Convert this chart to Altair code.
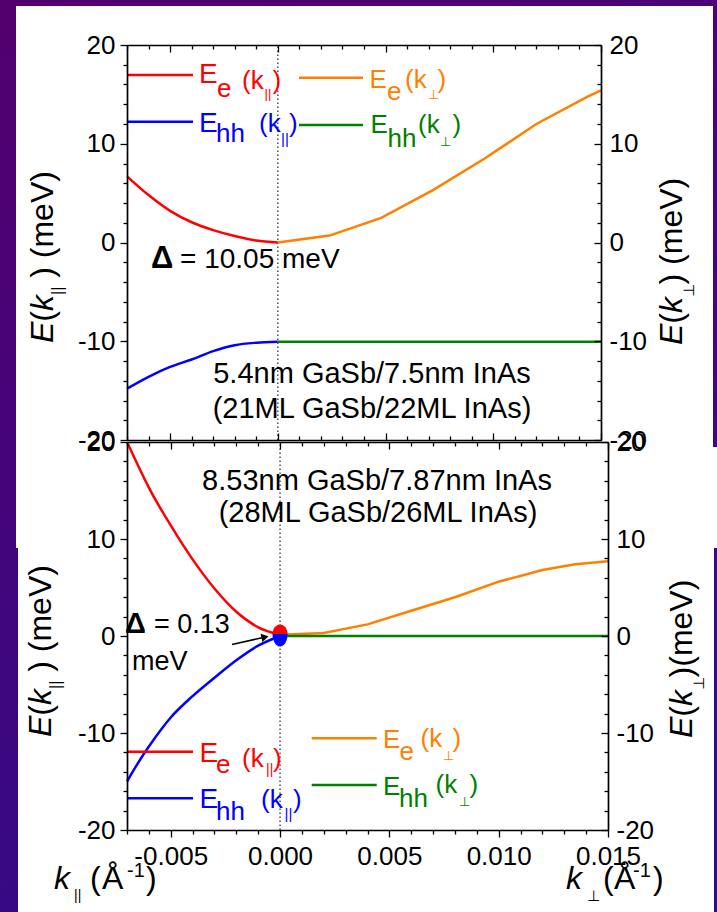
import math
import altair as alt
import pandas as pd

FONT = "Liberation Sans, Arial, Helvetica, DejaVu Sans, sans-serif"
RED, BLUE, ORANGE, GREEN, BLACK = "#ff0000", "#0000ff", "#ff8000", "#008000", "#000000"

# ---------------- values ----------------
# upper panel : 5.4nm GaSb / 7.5nm InAs
top_k_par = [-0.007, -0.006, -0.005, -0.004, -0.003, -0.002, -0.001, 0.0]
top_Ee_par = [6.7, 4.8, 3.2, 2.05, 1.25, 0.65, 0.2, 0.0]
top_Ehh_par = [-14.8, -13.6, -12.6, -11.85, -11.0, -10.4, -10.15, -10.05]
top_k_perp = [0.0, 0.0024, 0.0048, 0.0072, 0.0096, 0.012, 0.0144, 0.015]
top_Ee_perp = [0.0, 0.7, 2.5, 5.3, 8.5, 12.0, 14.8, 15.4]
top_k_perp_hh = [0.0, 0.015]
top_Ehh_perp = [-10.05, -10.05]

# lower panel : 8.53nm GaSb / 7.87nm InAs
bot_k_par = [-0.007, -0.0065, -0.006, -0.005, -0.004, -0.003, -0.002, -0.001, 0.0]
bot_Ee_par = [20.0, 17.6, 15.3, 11.4, 7.9, 4.9, 2.5, 0.9, 0.13]
bot_Ehh_par = [-15.0, -13.1, -11.4, -8.4, -6.2, -4.3, -2.5, -1.0, 0.0]
bot_k_perp = [0.0, 0.002, 0.004, 0.006, 0.008, 0.010, 0.012, 0.0135, 0.015]
bot_Ee_perp = [0.13, 0.3, 1.2, 2.6, 4.0, 5.6, 6.8, 7.4, 7.7]
bot_k_perp_hh = [0.0, 0.015]
bot_Ehh_perp = [0.0, 0.0]
touch_point = [0.0, 0.2]

x_major = [-0.005, 0.0, 0.005, 0.010, 0.015]
x_minor = [-0.007, -0.006, -0.004, -0.003, -0.002, -0.001, 0.001, 0.002, 0.003,
           0.004, 0.006, 0.007, 0.008, 0.009, 0.011, 0.012, 0.013, 0.014]
y_major = [-20, -10, 0, 10, 20]
y_minor = [-18, -16, -14, -12, -8, -6, -4, -2, 2, 4, 6, 8, 12, 14, 16, 18]

KMIN, KMAX, EMIN, EMAX = -0.007, 0.015, -20, 20

# ---------------- layout (page pixels) ----------------
LEFT = 127
TOPP = dict(y0=45, w=474, h=395)
BOTP = dict(y0=442, w=481, h=388)


def conv(p):
    def f(px, py):
        return (KMIN + (px - LEFT) * (KMAX - KMIN) / p["w"],
                EMAX - (py - p["y0"]) * (EMAX - EMIN) / p["h"])
    return f


def scales():
    return dict(x=alt.Scale(domain=[KMIN, KMAX], nice=False, zero=False),
                y=alt.Scale(domain=[EMIN, EMAX], nice=False, zero=False))


XLAB = "datum.value < 0 ? '-' + format(-datum.value, '.3f') : format(datum.value, '.3f')"
YLAB = "datum.value < 0 ? '-' + format(-datum.value, 'd') : format(datum.value, 'd')"


def axis(orient, values=None, size=0, offset=0, labels=False, domain=False, ticks=True, **kw):
    d = dict(orient=orient, grid=False, title=None, zindex=1, domain=domain,
             labels=labels, ticks=ticks, offset=offset,
             tickColor=BLACK, tickWidth=1.3, domainColor=BLACK, domainWidth=1.7,
             labelFont=FONT, labelFontSize=26, labelColor=BLACK)
    if values is not None:
        d["values"] = values
    if ticks:
        d["tickSize"] = size
    d.update(kw)
    return alt.Axis(**d)


CARRIER = pd.DataFrame({"k": [KMIN, KMAX], "E": [EMIN, EMAX]})
ONE = pd.DataFrame({"one": [1]})


def carrier(sc, xa, ya):
    return alt.Chart(CARRIER).mark_point(opacity=0).encode(
        x=alt.X("k:Q", scale=sc["x"], axis=xa),
        y=alt.Y("E:Q", scale=sc["y"], axis=ya))


def curves(sc, segs, interp):
    rows = []
    for name, ks, es, col in segs:
        for k, e in zip(ks, es):
            rows.append(dict(k=k, E=e, s=name, c=col))
    return alt.Chart(pd.DataFrame(rows)).mark_line(strokeWidth=2.5, interpolate=interp).encode(
        x=alt.X("k:Q", scale=sc["x"], axis=None),
        y=alt.Y("E:Q", scale=sc["y"], axis=None),
        color=alt.Color("c:N", scale=None),
        detail="s:N")


def dotted_zero(sc):
    df = pd.DataFrame({"k": [0.0], "E1": [EMIN], "E2": [EMAX]})
    return alt.Chart(df).mark_rule(strokeDash=[1.5, 2.5], strokeWidth=1.3, color="#333333").encode(
        x=alt.X("k:Q", scale=sc["x"], axis=None),
        y=alt.Y("E1:Q", scale=sc["y"], axis=None),
        y2="E2:Q")


def legend_rules(sc, p, items):
    f = conv(p)
    rows = []
    for x1, x2, y, c in items:
        a, e = f(x1, y)
        b, _ = f(x2, y)
        rows.append(dict(x=a, x2=b, y=e, c=c))
    return alt.Chart(pd.DataFrame(rows)).mark_rule(strokeWidth=2.5).encode(
        x=alt.X("x:Q", scale=sc["x"], axis=None), x2="x2:Q",
        y=alt.Y("y:Q", scale=sc["y"], axis=None),
        color=alt.Color("c:N", scale=None))


WID = {"E": 0.667, "(": 0.333, "k": 0.5, ")": 0.333, " ": 0.278, "m": 0.833,
       "e": 0.556, "V": 0.667, "|": 0.26, "⊥": 0.838}


def vtitle(base_x, start_y, parts, color=BLACK):
    # rotated (reading upwards) title built from pieces; leading blanks become gaps
    out = []
    along = 0.0
    for text, size, kind, cross in parts:
        stripped = text.lstrip(" ")
        along += (len(text) - len(stripped)) * WID[" "] * size
        out.append((base_x + cross, start_y - along, stripped, size, color, kind))
        along += sum(WID[ch] for ch in stripped) * size
    return out


def text_layers(sc, p, items):
    f = conv(p)
    rows = []
    for px, py, t, s, c, kind in items:
        x, y = f(px, py)
        rows.append(dict(x=x, y=y, t=t, s=s, c=c, kind=kind))
    df = pd.DataFrame(rows)
    specs = {"n": {}, "i": {"fontStyle": "italic"}, "b": {"fontWeight": "bold"},
             "c": {"align": "center"}, "rn": {"angle": 270},
             "ri": {"angle": 270, "fontStyle": "italic"}}
    layers = []
    for kind, kw in specs.items():
        sub = df[df.kind == kind]
        if len(sub) == 0:
            continue
        mk = dict(font=FONT, align="left", baseline="alphabetic")
        mk.update(kw)
        layers.append(alt.Chart(sub).mark_text(**mk).encode(
            x=alt.X("x:Q", scale=sc["x"], axis=None),
            y=alt.Y("y:Q", scale=sc["y"], axis=None),
            text="t:N",
            size=alt.Size("s:Q", scale=None),
            color=alt.Color("c:N", scale=None)))
    return layers


def vrect(x1, y1, x2, y2, fill):
    # page pixels -> pixels relative to the upper plot origin
    return alt.Chart(ONE).mark_rect(fill=fill, strokeWidth=0).encode(
        x=alt.value(x1 - LEFT), x2=alt.value(x2 - LEFT),
        y=alt.value(y1 - TOPP["y0"]), y2=alt.value(y2 - TOPP["y0"]))


# ---------------- axes ----------------
tb_frame = axis("bottom", domain=True, ticks=False)
tb_major = axis("bottom", x_major, 7, offset=-7)
tb_minor = axis("bottom", x_minor, 4, offset=-4)
bb_major = axis("bottom", x_major, 7, labels=True, domain=True, labelPadding=6,
                labelFlush=False, labelExpr=XLAB)
bb_minor = axis("bottom", x_minor, 4)
tt_frame = axis("top", domain=True, ticks=False)
tt_major = axis("top", x_major, 7, offset=-7)
tt_minor = axis("top", x_minor, 4, offset=-4)
yl_major = axis("left", y_major, 7, labels=True, domain=True, labelPadding=5, labelExpr=YLAB)
yl_minor = axis("left", y_minor, 4)
yr_frame = axis("right", domain=True, ticks=False)
yr_major = axis("right", y_major, 7, offset=-7, labels=True, labelPadding=8, labelExpr=YLAB)
yr_minor = axis("right", y_minor, 4, offset=-4)

LEFT_TITLE = [("E", 32, "ri", 0), ("(", 32, "rn", 0), ("k", 32, "ri", 0),
              ("||", 16, "rn", 10), (" )", 32, "rn", 0), (" (meV)", 32, "rn", 0)]
RIGHT_TITLE_T = [("E", 32, "ri", 0), ("(", 32, "rn", 0), ("k", 32, "ri", 0),
                 ("⊥", 15, "rn", 12), (")", 32, "rn", 0), (" (meV)", 32, "rn", 0)]
RIGHT_TITLE_B = [("E", 32, "ri", 0), ("(", 32, "rn", 0), ("k", 32, "ri", 0),
                 ("⊥", 15, "rn", 12), (")", 32, "rn", 0), ("(meV)", 32, "rn", 0)]

# ---------------- upper panel ----------------
sct = scales()
top_text = [
    (199, 83.3, "E", 28, RED, "n"), (217, 96.7, "e", 26, RED, "n"),
    (242, 89.3, "(k", 26, RED, "n"), (264.5, 97.5, "||", 13, RED, "n"), (272.5, 89.3, ")", 26, RED, "n"),
    (199, 131.7, "E", 28, BLUE, "n"), (216, 141.7, "hh", 26, BLUE, "n"),
    (259, 131.7, "(k", 26, BLUE, "n"), (281, 143.5, "||", 15, BLUE, "n"), (289, 131.7, ")", 26, BLUE, "n"),
    (369.5, 88.3, "E", 26, ORANGE, "n"), (387, 100, "e", 26, ORANGE, "n"),
    (405, 88.3, "(k", 26, ORANGE, "n"), (428, 99, "⊥", 13, ORANGE, "n"), (437.5, 88.3, ")", 26, ORANGE, "n"),
    (370.5, 133.3, "E", 26, GREEN, "n"), (387.5, 146.7, "hh", 26, GREEN, "n"),
    (418, 133.3, "(k", 26, GREEN, "n"), (440, 146, "⊥", 13, GREEN, "n"), (452.5, 133.3, ")", 26, GREEN, "n"),
    (372, 383, "5.4nm GaSb/7.5nm InAs", 29, BLACK, "c"),
    (372, 418, "(21ML GaSb/22ML InAs)", 29, BLACK, "c"),
    (151, 268, "Δ", 31, BLACK, "b"), (180, 268, "= 10.05 meV", 28, BLACK, "n"),
] + vtitle(53, 343, LEFT_TITLE) + vtitle(682, 345, RIGHT_TITLE_T)

grad = alt.LinearGradient(gradient="linear", x1=0, x2=0.3, y1=0, y2=1, stops=[
    alt.GradientStop(color="#53006e", offset=0),
    alt.GradientStop(color="#44047a", offset=0.5),
    alt.GradientStop(color="#340b86", offset=1)])

top_layers = [
    vrect(0, 0, 717, 912, grad),
    vrect(16, 6, 713, 447, "white"),
    vrect(16, 447, 717, 548, "white"),
    vrect(18, 548, 714, 912, "white"),
    carrier(sct, tb_frame, yl_major),
    carrier(sct, tb_major, yl_minor),
    carrier(sct, tb_minor, yr_frame),
    carrier(sct, tt_frame, yr_major),
    carrier(sct, tt_major, yr_minor),
    carrier(sct, tt_minor, None),
    dotted_zero(sct),
    curves(sct, [("e_par", top_k_par, top_Ee_par, RED),
                 ("hh_par", top_k_par, top_Ehh_par, BLUE)], "monotone"),
    curves(sct, [("e_perp", top_k_perp, top_Ee_perp, ORANGE),
                 ("hh_perp", top_k_perp_hh, top_Ehh_perp, GREEN)], "linear"),
    legend_rules(sct, TOPP, [(127, 193, 75, RED), (127, 193, 121.7, BLUE),
                             (299, 363, 77.7, ORANGE), (299, 363, 125, GREEN)]),
] + text_layers(sct, TOPP, top_text)

top = alt.layer(*top_layers).properties(width=TOPP["w"], height=TOPP["h"]).resolve_axis(
    x="independent", y="independent")

# ---------------- lower panel ----------------
scb = scales()
fb = conv(BOTP)
bot_text = [
    (199.5, 761.7, "E", 28, RED, "n"), (216, 773.3, "e", 26, RED, "n"),
    (242, 766.7, "(k", 26, RED, "n"), (266, 774, "||", 14, RED, "n"), (273, 766.7, ")", 26, RED, "n"),
    (199.5, 808.3, "E", 28, BLUE, "n"), (216, 820, "hh", 26, BLUE, "n"),
    (261, 808.3, "(k", 26, BLUE, "n"), (284.5, 818.5, "||", 15, BLUE, "n"), (293, 808.3, ")", 26, BLUE, "n"),
    (383, 748.3, "E", 26, ORANGE, "n"), (399.5, 760, "e", 26, ORANGE, "n"),
    (420.5, 746.7, "(k", 26, ORANGE, "n"), (443, 760, "⊥", 13, ORANGE, "n"), (452.5, 746.7, ")", 26, ORANGE, "n"),
    (383, 795, "E", 26, GREEN, "n"), (399, 806.7, "hh", 26, GREEN, "n"),
    (435.5, 793.3, "(k", 26, GREEN, "n"), (459, 806, "⊥", 13, GREEN, "n"), (469.5, 793.3, ")", 26, GREEN, "n"),
    (377, 490, "8.53nm GaSb/7.87nm InAs", 29, BLACK, "c"),
    (378, 522, "(28ML GaSb/26ML InAs)", 29, BLACK, "c"),
    (125, 633, "Δ", 29, BLACK, "b"), (154, 633, "= 0.13", 27, BLACK, "n"), (132, 670, "meV", 27, BLACK, "n"),
    (54, 889, "k", 32, BLACK, "i"), (74, 900, "||", 14, BLACK, "n"), (90, 889, "(", 32, BLACK, "n"),
    (102, 889, "Å", 32, BLACK, "n"), (127, 877, "-1", 20, BLACK, "n"), (146, 889, ")", 32, BLACK, "n"),
    (566, 889, "k", 32, BLACK, "i"), (587, 901, "⊥", 15, BLACK, "n"), (603, 889, "(", 32, BLACK, "n"),
    (614, 889, "Å", 32, BLACK, "n"), (633, 877, "-1", 20, BLACK, "n"), (653, 889, ")", 32, BLACK, "n"),
] + vtitle(51, 737, LEFT_TITLE) + vtitle(692, 738, RIGHT_TITLE_B)


def half_ellipse(rx, ry, upper, n=16):
    pts = []
    for i in range(n + 1):
        th = math.pi * i / n
        x = -rx * math.cos(th)
        y = -ry * math.sin(th) if upper else ry * math.sin(th)
        pts.append(f"{x:.3f},{y:.3f}")
    return "M" + " L".join(pts) + " Z"


dots = pd.DataFrame({"k": [touch_point[0]] * 2, "E": [touch_point[1]] * 2,
                     "shape": [half_ellipse(0.75, 0.95, True), half_ellipse(0.75, 1.25, False)],
                     "c": [RED, BLUE]})
dot_layer = alt.Chart(dots).mark_point(filled=True, size=400, opacity=1, strokeWidth=0).encode(
    x=alt.X("k:Q", scale=scb["x"], axis=None),
    y=alt.Y("E:Q", scale=scb["y"], axis=None),
    shape=alt.Shape("shape:N", scale=None),
    color=alt.Color("c:N", scale=None))

ax0, ay0 = fb(232, 644.5)
ax1, ay1 = fb(262, 637.7)
ahx, ahy = fb(265, 637)
arrow_line = alt.Chart(pd.DataFrame({"x": [ax0], "y": [ay0], "x2": [ax1], "y2": [ay1]})).mark_rule(
    strokeWidth=1.6, color=BLACK).encode(
    x=alt.X("x:Q", scale=scb["x"], axis=None), y=alt.Y("y:Q", scale=scb["y"], axis=None),
    x2="x2:Q", y2="y2:Q")
arrow_head = alt.Chart(pd.DataFrame({"x": [ahx], "y": [ahy]})).mark_point(
    shape="triangle-right", filled=True, size=70, angle=347, color=BLACK, opacity=1).encode(
    x=alt.X("x:Q", scale=scb["x"], axis=None), y=alt.Y("y:Q", scale=scb["y"], axis=None))

bot_layers = [
    carrier(scb, bb_major, yl_major),
    carrier(scb, bb_minor, yl_minor),
    carrier(scb, tt_frame, yr_frame),
    carrier(scb, tt_major, yr_major),
    carrier(scb, tt_minor, yr_minor),
    dotted_zero(scb),
    curves(scb, [("e_par", bot_k_par, bot_Ee_par, RED),
                 ("hh_par", bot_k_par, bot_Ehh_par, BLUE)], "monotone"),
    curves(scb, [("e_perp", bot_k_perp, bot_Ee_perp, ORANGE),
                 ("hh_perp", bot_k_perp_hh, bot_Ehh_perp, GREEN)], "linear"),
    legend_rules(scb, BOTP, [(127, 193, 751.7, RED), (127, 193, 798.3, BLUE),
                             (311.7, 376.7, 738.3, ORANGE), (311.7, 376.7, 785, GREEN)]),
    arrow_line, arrow_head, dot_layer,
] + text_layers(scb, BOTP, bot_text)

bot = alt.layer(*bot_layers).properties(width=BOTP["w"], height=BOTP["h"]).resolve_axis(
    x="independent", y="independent")

chart = alt.vconcat(top, bot, spacing=2, bounds="flush").properties(padding=0).configure(
    background="#45057a", font=FONT).configure_view(strokeWidth=0)

chart.save("out.html", embed_options={"renderer": "svg", "actions": False})
